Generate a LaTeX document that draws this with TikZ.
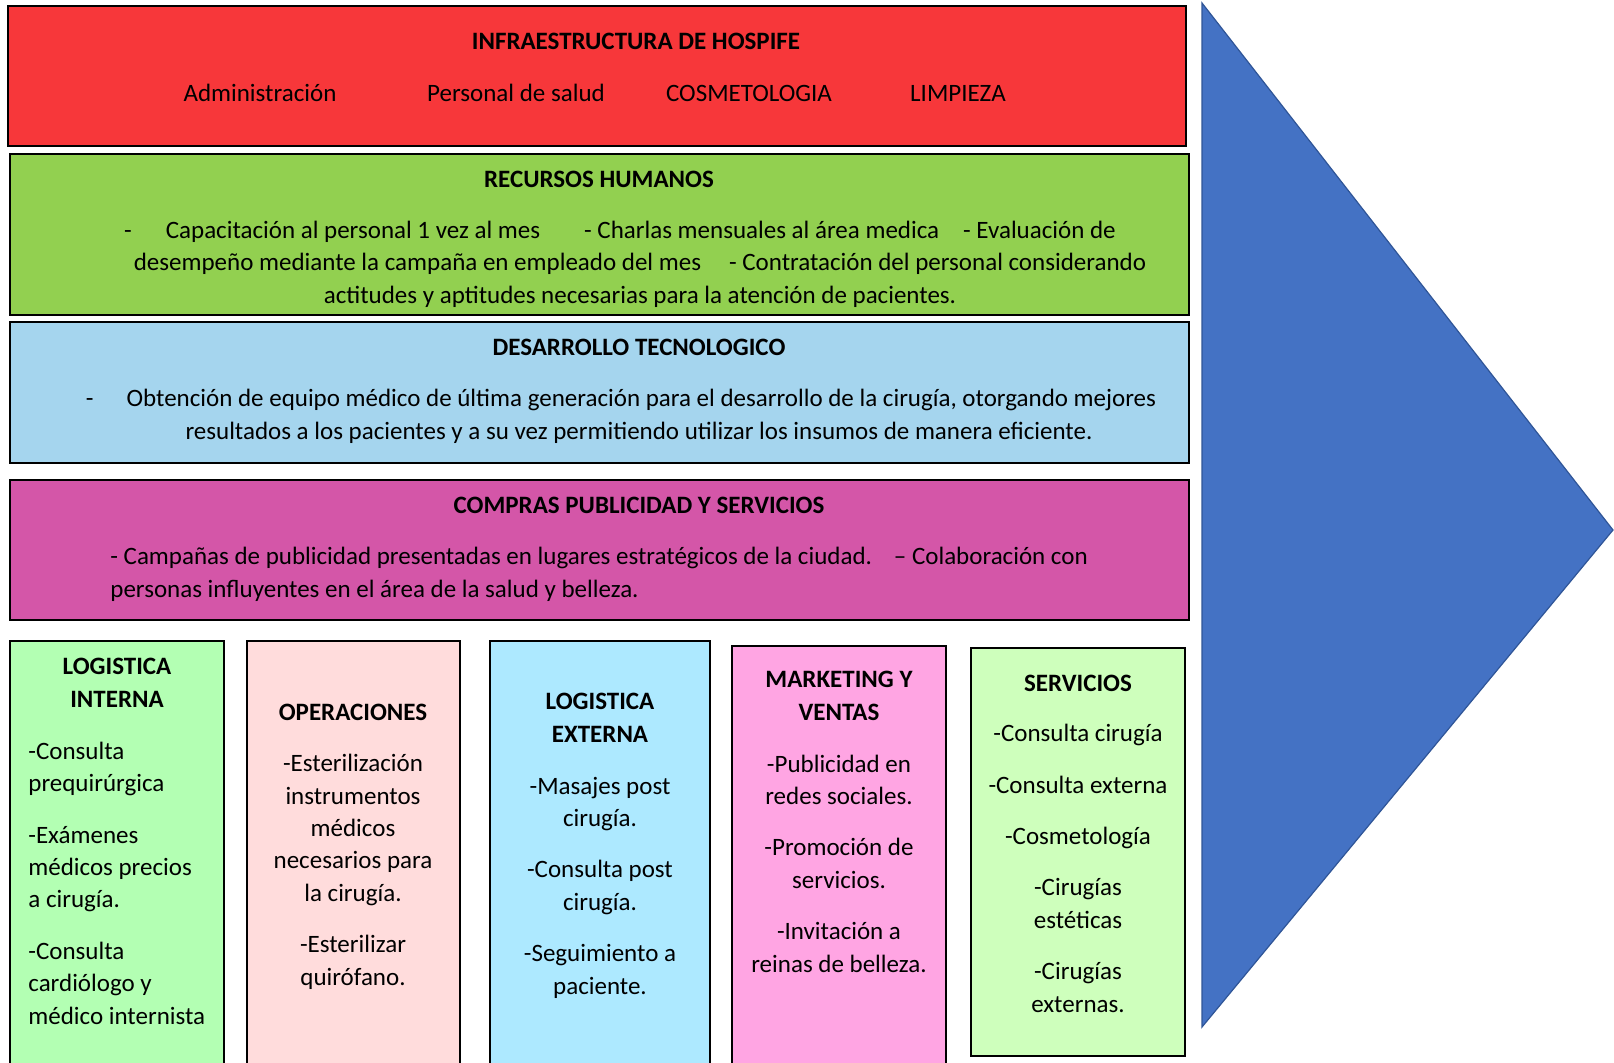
\documentclass[tikz,border=0pt]{standalone}
\usepackage{fontspec}
\setmainfont{Carlito}
\definecolor{infrared}{HTML}{F7373A}
\definecolor{rhgreen}{HTML}{92D050}
\definecolor{techblue}{HTML}{A5D5EE}
\definecolor{buypink}{HTML}{D456A8}
\definecolor{ligreen}{HTML}{B3FFB3}
\definecolor{oprose}{HTML}{FFDCDC}
\definecolor{lecyan}{HTML}{ADE9FF}
\definecolor{mvpink}{HTML}{FFA5E3}
\definecolor{svgreen}{HTML}{CEFFBC}
\definecolor{arrowblue}{HTML}{4472C4}
\definecolor{arrowedge}{HTML}{2F5597}
\tikzset{
  band/.style={draw=black, line width=1.3pt},
  column/.style={draw=black, line width=1.1pt},
  txt/.style={inner sep=0pt, font=\fontsize{12.5}{16.2}\selectfont},
  head/.style={inner sep=0pt, font=\fontsize{12.5}{16.2}\selectfont\bfseries},
}
\begin{document}
\begin{tikzpicture}[x=0.5pt, y=-0.5pt]
	\useasboundingbox (0,0) rectangle (1614,1062);
	% support activities
	\draw[band, fill=infrared] (8,6) rectangle (1186,146);
	\draw[band, fill=rhgreen] (10,154) rectangle (1189,315);
	\draw[band, fill=techblue] (10,322) rectangle (1189,463);
	\draw[band, fill=buypink] (10,480) rectangle (1189,620);
	% primary activities
	\draw[column, fill=ligreen] (10,641) rectangle (224,1075);
	\draw[column, fill=oprose] (247,641) rectangle (460,1075);
	\draw[column, fill=lecyan] (490,641) rectangle (710,1075);
	\draw[column, fill=mvpink] (732,646) rectangle (946,1075);
	\draw[column, fill=svgreen] (971,648) rectangle (1185,1056);
	% margin arrow
	\filldraw[fill=arrowblue, draw=arrowedge, line width=0.6pt]
	  (1202,3) -- (1613,530) -- (1202,1027) -- cycle;

	\node[head] (infra) at (636,41) {INFRAESTRUCTURA DE HOSPIFE};
	\foreach \x/\t [count=\i] in {260/Administración, 516/Personal de salud,
	    749/COSMETOLOGIA, 958/LIMPIEZA}
	  {
	      \node[txt] (infra-\i) at (\x,93) {\t};
	  }

	\node[head] (rrhh) at (599,179) {RECURSOS HUMANOS};
	\node[txt, align=center, anchor=base] (rrhh-text) at (640,303)
	  {-\hspace{17pt}Capacitación al personal 1 vez al mes\hspace{22pt}- Charlas mensuales al área medica\hspace{12pt}- Evaluación de\hspace*{20pt}\\
	   desempeño mediante la campaña en empleado del mes\hspace{14pt}- Contratación del personal considerando\\
	   actitudes y aptitudes necesarias para la atención de pacientes.};

	\node[head] (tec) at (639,347) {DESARROLLO TECNOLOGICO};
	\node[txt, align=center, anchor=base] (tec-text) at (639,439)
	  {-\hspace{16.5pt}Obtención de equipo médico de última generación para el desarrollo de la cirugía, otorgando mejores\hspace*{18pt}\\
	   resultados a los pacientes y a su vez permitiendo utilizar los insumos de manera eficiente.};

	\node[head] (compras) at (639,505) {COMPRAS PUBLICIDAD Y SERVICIOS};
	\node[txt, align=left, anchor=base west] (compras-text) at (110,597)
	  {- Campañas de publicidad presentadas en lugares estratégicos de la ciudad.\hspace{11pt}– Colaboración con\\
	   personas influyentes en el área de la salud y belleza.};

	% columns
	\node[head, align=center, anchor=base] (li) at (117,707) {LOGISTICA\\INTERNA};
	\node[txt, align=left, anchor=base west] (li-text) at (28,1024)
	  {-Consulta\\prequirúrgica\\[9.5pt]-Exámenes\\médicos precios\\a cirugía.\\[9.5pt]-Consulta\\cardiólogo y\\médico internista};

	\node[head] (op) at (353,712) {OPERACIONES};
	\node[txt, align=center, anchor=base] (op-text) at (353,985)
	  {-Esterilización\\instrumentos\\médicos\\necesarios para\\la cirugía.\\[9.5pt]-Esterilizar\\quirófano.};

	\node[head, align=center, anchor=base] (le) at (600,742) {LOGISTICA\\EXTERNA};
	\node[txt, align=center, anchor=base] (le-text) at (600,994)
	  {-Masajes post\\cirugía.\\[9.5pt]-Consulta post\\cirugía.\\[9.5pt]-Seguimiento a\\paciente.};

	\node[head, align=center, anchor=base] (mv) at (839,720) {MARKETING Y\\VENTAS};
	\node[txt, align=center, anchor=base] (mv-text) at (839,972)
	  {-Publicidad en\\redes sociales.\\[9.5pt]-Promoción de\\servicios.\\[9.5pt]-Invitación a\\reinas de belleza.};

	\node[head] (sv) at (1078,683) {SERVICIOS};
	\node[txt, align=center, anchor=base] (sv-text) at (1078,1012)
	  {-Consulta cirugía\\[9.5pt]-Consulta externa\\[9.5pt]-Cosmetología\\[9.5pt]-Cirugías\\estéticas\\[9.5pt]-Cirugías\\externas.};
\end{tikzpicture}
\end{document}
